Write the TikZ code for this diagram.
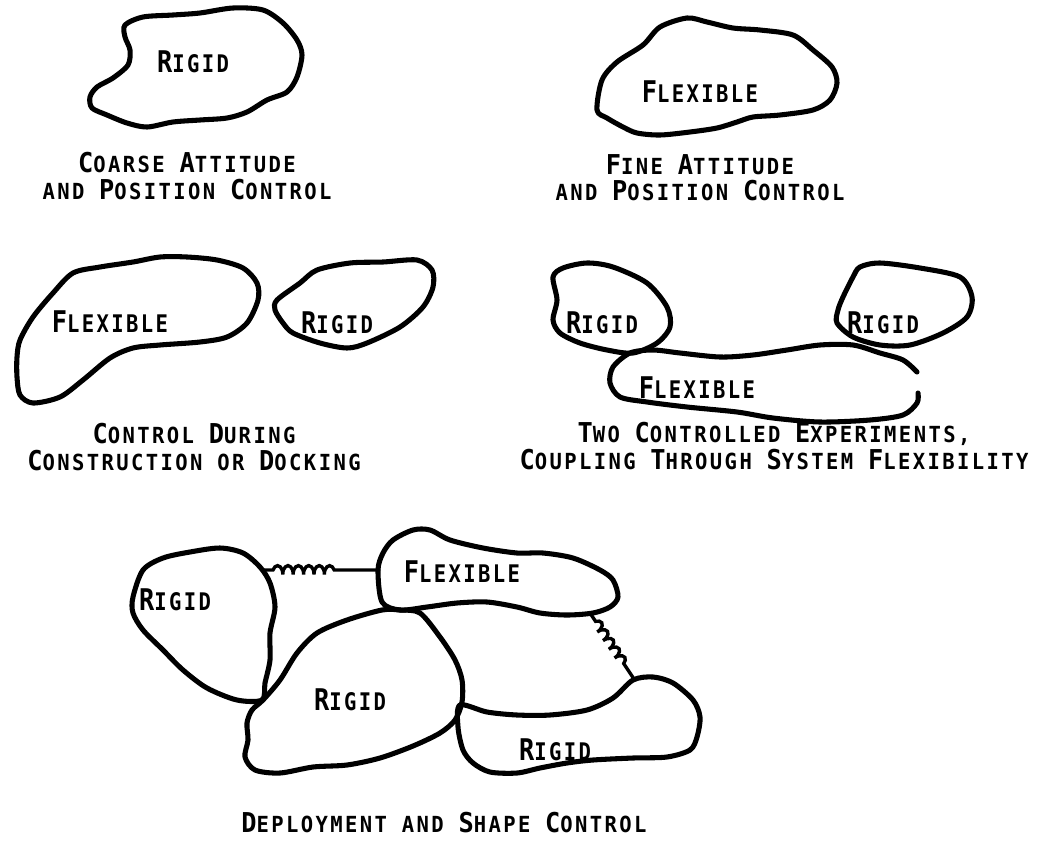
\documentclass[tikz,border=0pt]{standalone}
\usepackage{fontspec}
\usetikzlibrary{decorations.pathmorphing}

\newfontfamily\leroybig{DejaVu Sans Mono}
\newfontfamily\leroysmall{DejaVu Sans Mono}[LetterSpace=11.7]

\newcommand\ini[1]{{\leroybig\bfseries\fontsize{18}{18.4}\selectfont #1}}
\newcommand\tall[2][1.18]{\scalebox{1}[#1]{#2}}

\begin{document}
\begin{tikzpicture}[x=0.025cm,y=-0.025cm,
	blob/.style={line width=3.6pt,line join=round,line cap=round},
	spring/.style={line width=2.4pt,line cap=round,decorate,
		decoration={coil,amplitude=1.1mm,segment length=2.6mm,aspect=0.45,pre length=#1}},
	caption/.style={font=\leroysmall\bfseries\fontsize{14.6}{18.8}\selectfont,align=center,inner sep=0pt},
	tag/.style={font=\leroysmall\bfseries\fontsize{14.6}{18.4}\selectfont,inner sep=0pt}]

	\useasboundingbox (0,0) rectangle (1043,842);

	% coarse attitude: one rigid body
	\draw[blob] plot[smooth cycle] coordinates {(125,25) (143,17) (173,15) (200,13) (233,8) (263,10) (283,23) (297,40) (302,55) (297,77) (287,92) (267,100) (247,112) (227,118) (200,120) (173,122) (147,127) (127,123) (107,115) (92,108) (90,97) (97,87) (113,78) (128,65) (130,50) (125,37)};
	\node[tag] (rigidA) at (193,62) {\tall{\ini{R}IGID}};
	\node[caption] (capA) at (187,176) {\tall[1.08]{\ini{C}OARSE \ini{A}TTITUDE}\\\tall[1.08]{AND \ini{P}OSITION \ini{C}ONTROL}};

	% fine attitude: one flexible body
	\draw[blob] plot[smooth cycle] coordinates {(597,110) (602,80) (617,62) (643,45) (660,27) (687,18) (707,22) (733,28) (760,30) (793,35) (813,50) (832,67) (837,83) (830,100) (813,110) (780,115) (753,117) (737,122) (717,128) (690,132) (660,135) (637,133) (623,127) (607,118)};
	\node[tag] (flexB) at (700,92) {\tall{\ini{F}LEXIBLE}};
	\node[caption] (capB) at (700,178) {\tall[1.08]{\ini{F}INE \ini{A}TTITUDE}\\\tall[1.08]{AND \ini{P}OSITION \ini{C}ONTROL}};

	% construction or docking
	\draw[blob] plot[smooth cycle] coordinates {(20,340) (33,317) (53,293) (73,273) (100,267) (133,262) (160,257) (187,257) (217,260) (243,268) (257,283) (258,300) (247,323) (227,337) (200,342) (160,345) (133,348) (110,358) (83,380) (60,397) (33,403) (20,395) (17,377) (17,357)};
	\draw[blob] plot[smooth cycle] coordinates {(277,300) (300,283) (317,270) (350,263) (383,262) (417,260) (432,270) (433,287) (423,307) (400,327) (367,343) (347,348) (320,343) (293,333) (283,323) (275,310)};
	\node[tag] (flexC) at (110,322) {\tall{\ini{F}LEXIBLE}};
	\node[tag] (rigidC) at (337,323) {\tall{\ini{R}IGID}};
	\node[caption] (capC) at (194,447) {\tall[1.08]{\ini{C}ONTROL \ini{D}URING}\\\tall[1.08]{\ini{C}ONSTRUCTION OR \ini{D}OCKING}};

	% two experiments on one flexible body
	\draw[blob] plot[smooth cycle] coordinates {(553,277) (563,268) (587,263) (613,267) (647,283) (667,307) (670,327) (657,343) (633,353) (607,350) (580,343) (560,333) (553,320) (557,300)};
	\draw[blob] plot[smooth cycle] coordinates {(843,297) (853,277) (860,267) (880,263) (920,268) (960,277) (972,297) (967,317) (943,333) (910,345) (880,345) (853,337) (837,323) (838,310)};
	\draw[blob] plot[smooth] coordinates {(917,372) (903,360) (880,353) (853,345) (820,345) (787,350) (753,355) (720,357) (680,353) (653,350) (630,353) (613,367) (610,383) (620,397) (647,402) (687,407) (737,412) (773,418) (820,422) (870,420) (903,415) (917,403) (918,393)};
	\node[tag] (rigidD1) at (602,323) {\tall{\ini{R}IGID}};
	\node[tag] (rigidD2) at (883,323) {\tall{\ini{R}IGID}};
	\node[tag] (flexD) at (697,388) {\tall{\ini{F}LEXIBLE}};
	\node[caption] (capD) at (774,446) {\tall[1.08]{\ini{T}WO \ini{C}ONTROLLED \ini{E}XPERIMENTS,}\\\tall[1.08]{\ini{C}OUPLING \ini{T}HROUGH \ini{S}YSTEM \ini{F}LEXIBILITY}};

	% deployment: four bodies and two springs
	\draw[blob] plot[smooth cycle] coordinates {(133,597) (143,570) (163,558) (190,552) (220,548) (243,553) (260,567) (270,583) (275,607) (270,633) (270,660) (265,683) (262,700) (237,700) (207,688) (183,670) (163,650) (143,630) (133,613)};
	\draw[blob] plot[smooth cycle] coordinates {(378,570) (383,553) (393,540) (413,530) (430,530) (450,540) (483,548) (517,553) (543,553) (573,558) (600,570) (613,580) (618,597) (610,607) (593,613) (567,615) (540,613) (517,607) (487,602) (457,603) (427,607) (400,610) (382,602)};
	\draw[blob] plot[smooth cycle] coordinates {(382,610) (400,610) (420,613) (440,637) (455,660) (462,680) (462,702) (455,720) (440,733) (413,746) (380,758) (347,765) (313,767) (280,773) (255,770) (245,757) (248,740) (247,723) (252,710) (263,700) (280,680) (297,653) (317,633) (347,620)};
	\draw[blob] plot[smooth cycle] coordinates {(460,705) (487,712) (517,715) (550,715) (587,710) (613,698) (633,680) (653,677) (673,683) (693,700) (700,717) (697,737) (690,750) (667,757) (633,758) (593,760) (567,763) (540,768) (517,773) (490,772) (473,763) (463,750) (458,727)};
	\coordinate (k1) at (262,570);
	\coordinate (k2) at (379,570);
	\coordinate (k3) at (590,613);
	\coordinate (k4) at (634,679);
	\draw[spring=2.75mm,decoration={post length=9.75mm}] (k1) -- (k2);
	\draw[spring=2.5mm,decoration={post length=2.2mm}] (k3) -- (k4);
	\node[tag] (rigidE1) at (175,600) {\tall{\ini{R}IGID}};
	\node[tag] (flexE) at (462,572) {\tall{\ini{F}LEXIBLE}};
	\node[tag] (rigidE2) at (350,700) {\tall{\ini{R}IGID}};
	\node[tag] (rigidE3) at (555,750) {\tall{\ini{R}IGID}};
	\node[caption] (capE) at (444,823) {\tall[1.08]{\ini{D}EPLOYMENT AND \ini{S}HAPE \ini{C}ONTROL}};

\end{tikzpicture}
\end{document}
